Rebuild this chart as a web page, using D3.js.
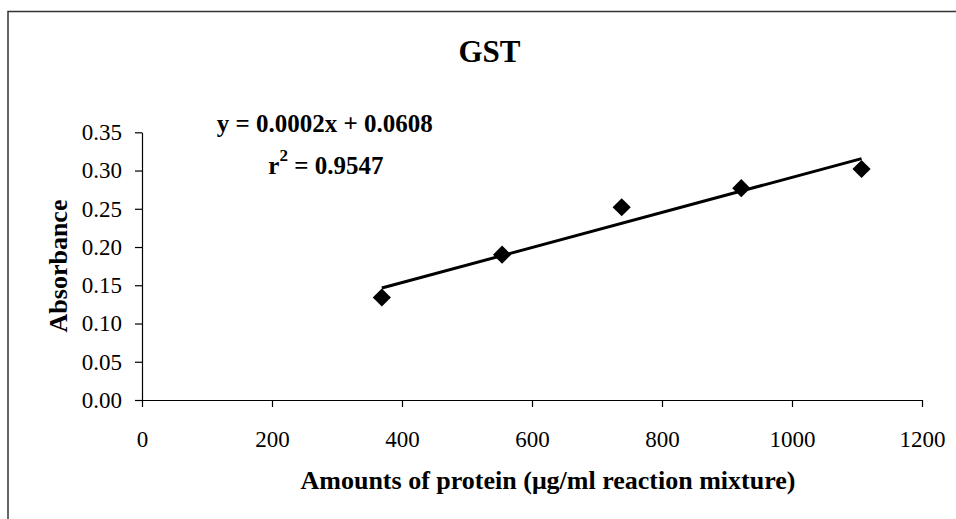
<!DOCTYPE html>
<html><head><meta charset="utf-8">
<script src="https://cdn.jsdelivr.net/npm/d3@7"></script>
<style>body{margin:0;background:#fff}svg{display:block}text{font-family:"Liberation Serif","Times New Roman",serif;fill:#000}</style>
</head><body>
<script>
const protein = [369, 554, 738, 922, 1107];
const absorbance = [0.134, 0.190, 0.252, 0.277, 0.302];
const xTicks = [0, 200, 400, 600, 800, 1000, 1200];
const yTicks = [0, 0.05, 0.10, 0.15, 0.20, 0.25, 0.30, 0.35];
const titleText = "GST";
const xTitle = "Amounts of protein (\u03bcg/ml reaction mixture)";
const yTitle = "Absorbance";
const eqText = "y = 0.0002x + 0.0608";
const r2Value = "0.9547";

const W = 956, H = 519;
const svg = d3.select("body").append("svg").attr("width", W).attr("height", H);
svg.append("rect").attr("x", 8).attr("y", 11.5).attr("width", 1000).attr("height", 1000)
  .attr("fill", "none").attr("stroke", "#333").attr("stroke-width", 1.5);

const x = d3.scaleLinear().domain([0, 1200]).range([142, 922]);
const y = d3.scaleLinear().domain([0, 0.35]).range([400, 132.3]);

const gx = svg.append("g").attr("transform", "translate(0,400)")
  .call(d3.axisBottom(x).tickValues(xTicks).tickFormat(d3.format("d")).tickSize(7).tickSizeOuter(0).tickPadding(24));
const gy = svg.append("g").attr("transform", "translate(142,0)")
  .call(d3.axisLeft(y).tickValues(yTicks).tickFormat(d3.format(".2f")).tickSize(7).tickSizeOuter(0).tickPadding(13));
[gx, gy].forEach(g => {
  g.selectAll("path.domain, line").attr("stroke", "#000").attr("stroke-width", 1.2);
  g.selectAll("text").attr("font-family", '"Liberation Serif", serif').attr("font-size", 23).attr("fill", "#000");
});
gx.selectAll("text").attr("dy", 0).attr("y", 47);

// regression trend line
const n = protein.length;
const mx = d3.mean(protein), my = d3.mean(absorbance);
let sxy = 0, sxx = 0;
for (let i = 0; i < n; i++) { sxy += (protein[i]-mx)*(absorbance[i]-my); sxx += (protein[i]-mx)**2; }
const slope = sxy / sxx, icpt = my - slope * mx;
const x0 = d3.min(protein), x1 = d3.max(protein);
svg.append("line").attr("x1", x(x0)).attr("y1", y(slope*x0+icpt)).attr("x2", x(x1)).attr("y2", y(slope*x1+icpt))
  .attr("stroke", "#000").attr("stroke-width", 3);

svg.selectAll("path.pt").data(protein).enter().append("path").attr("class", "pt")
  .attr("d", d3.symbol(d3.symbolSquare, 165)())
  .attr("transform", (d, i) => `translate(${x(d)},${y(absorbance[i])}) rotate(45)`)
  .attr("fill", "#000");

svg.append("text").attr("x", 489.5).attr("y", 61.7).attr("text-anchor", "middle")
  .attr("font-weight", "bold").attr("font-size", 31).text(titleText);

svg.append("text").attr("x", 216.7).attr("y", 132.3).attr("font-weight", "bold").attr("font-size", 25).text(eqText);
const r2 = svg.append("text").attr("x", 268.3).attr("y", 174).attr("font-weight", "bold").attr("font-size", 25);
r2.append("tspan").text("r");
r2.append("tspan").attr("dy", -13).attr("font-size", 17).text("2");
r2.append("tspan").attr("dy", 13).text(" = " + r2Value);

svg.append("text").attr("x", 548).attr("y", 489).attr("text-anchor", "middle")
  .attr("font-weight", "bold").attr("font-size", 26).text(xTitle);
svg.append("text").attr("transform", "translate(67,266) rotate(-90)").attr("text-anchor", "middle")
  .attr("font-weight", "bold").attr("font-size", 26).text(yTitle);
</script>
</body></html>
